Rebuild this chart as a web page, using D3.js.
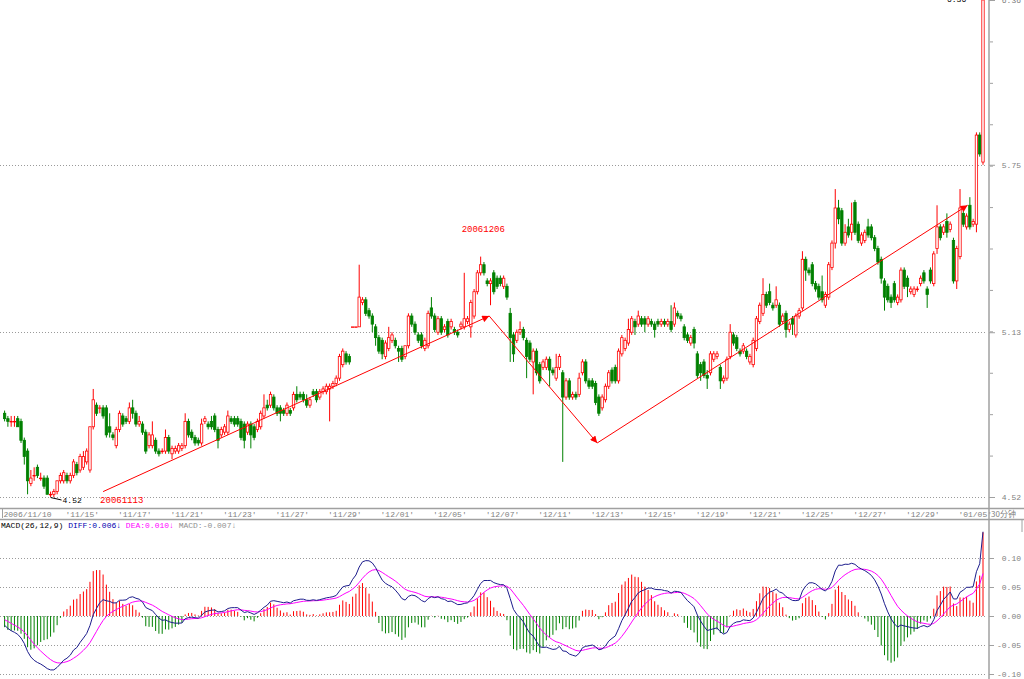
<!DOCTYPE html>
<html>
<head>
<meta charset="utf-8">
<script src="https://cdn.jsdelivr.net/npm/d3@7"></script>
<style>
body { margin: 0; background: #fff; overflow: hidden; }
svg { display: block; }
text { font-family: "Liberation Mono", "DejaVu Sans Mono", monospace; font-size: 8px; }
</style>
</head>
<body>
<svg id="chart" width="1024" height="679"></svg>
<script>
// 30 minute bars, 2006/11/10 .. 2007/01/05
var open = [
  4.83,4.81,4.80,4.80,4.81,4.80,4.73,4.69,4.57,4.60,
  4.63,4.59,4.59,4.59,4.53,4.53,4.54,4.58,4.58,4.60,
  4.58,4.60,4.64,4.62,4.63,4.65,4.62,4.78,4.86,4.85,
  4.85,4.85,4.78,4.75,4.71,4.77,4.82,4.81,4.80,4.85,
  4.83,4.79,4.79,4.76,4.71,4.71,4.73,4.69,4.69,4.69,
  4.74,4.68,4.69,4.69,4.70,4.71,4.80,4.76,4.74,4.73,
  4.72,4.80,4.79,4.80,4.82,4.77,4.75,4.76,4.76,4.81,
  4.81,4.81,4.80,4.79,4.76,4.79,4.78,4.77,4.78,4.82,
  4.86,4.86,4.89,4.85,4.85,4.84,4.83,4.84,4.85,4.90,
  4.90,4.90,4.88,4.86,4.91,4.91,4.89,4.91,4.91,4.92,
  4.93,4.94,4.96,5.01,5.05,5.04,5.15,5.15,5.15,5.24,
  5.25,5.21,5.19,5.15,5.11,5.10,5.04,5.07,5.10,5.10,
  5.07,5.07,5.04,5.08,5.19,5.16,5.12,5.12,5.07,5.08,
  5.22,5.19,5.13,5.18,5.14,5.17,5.15,5.14,5.13,5.15,
  5.15,5.17,5.15,5.19,5.28,5.35,5.38,5.32,5.31,5.35,
  5.33,5.33,5.30,5.30,5.20,5.12,5.10,5.13,5.14,5.10,
  5.09,5.02,5.06,5.01,5.00,5.00,5.03,4.99,4.96,5.00,
  4.98,4.89,4.95,4.89,4.90,4.90,4.98,5.02,4.95,4.95,
  4.94,4.89,4.85,4.88,4.93,4.99,5.00,4.95,5.05,5.07,
  5.09,5.13,5.17,5.16,5.18,5.18,5.16,5.17,5.16,5.17,
  5.16,5.17,5.16,5.17,5.16,5.20,5.19,5.15,5.12,5.09,
  5.14,5.05,5.01,5.02,4.97,4.98,5.03,5.04,5.00,4.95,
  4.96,5.04,5.12,5.11,5.06,5.06,5.06,5.02,5.01,5.07,
  5.17,5.20,5.27,5.28,5.23,5.23,5.23,5.17,5.20,5.14,
  5.18,5.12,5.19,5.22,5.40,5.36,5.38,5.31,5.30,5.28,
  5.23,5.26,5.37,5.46,5.59,5.58,5.46,5.52,5.50,5.61,
  5.53,5.46,5.47,5.52,5.52,5.48,5.44,5.40,5.32,5.30,
  5.26,5.31,5.24,5.25,5.36,5.33,5.28,5.27,5.29,5.31,
  5.35,5.29,5.36,5.31,5.44,5.52,5.50,5.54,5.51,5.47,
  5.32,5.41,5.57,5.52,5.60,5.53,5.53,5.86,5.76
];
var high = [
  4.84,4.82,4.82,4.82,4.82,4.81,4.74,4.70,4.62,4.63,
  4.64,4.61,4.60,4.60,4.54,4.55,4.58,4.61,4.62,4.61,
  4.61,4.66,4.65,4.68,4.69,4.70,4.78,4.92,4.87,4.86,
  4.86,4.86,4.83,4.76,4.78,4.84,4.83,4.82,4.87,4.88,
  4.84,4.82,4.80,4.77,4.76,4.80,4.74,4.70,4.70,4.77,
  4.75,4.71,4.71,4.72,4.72,4.83,4.81,4.77,4.75,4.74,
  4.81,4.82,4.80,4.82,4.83,4.78,4.78,4.79,4.84,4.82,
  4.82,4.82,4.81,4.80,4.80,4.80,4.79,4.81,4.84,4.90,
  4.88,4.91,4.90,4.86,4.86,4.85,4.87,4.85,4.91,4.93,
  4.91,4.91,4.90,4.89,4.92,4.92,4.92,4.93,4.94,4.94,
  4.95,4.97,5.05,5.07,5.06,5.05,5.15,5.15,5.38,5.26,
  5.26,5.22,5.20,5.16,5.12,5.11,5.10,5.15,5.13,5.11,
  5.08,5.08,5.08,5.20,5.20,5.17,5.13,5.13,5.11,5.21,
  5.26,5.20,5.19,5.19,5.16,5.18,5.18,5.15,5.14,5.17,
  5.35,5.19,5.25,5.29,5.36,5.41,5.39,5.33,5.33,5.36,
  5.34,5.34,5.34,5.31,5.22,5.13,5.14,5.17,5.15,5.11,
  5.10,5.07,5.07,5.02,5.03,5.04,5.04,5.00,5.05,5.05,
  4.99,4.96,4.96,4.91,4.91,4.98,5.03,5.03,4.96,4.96,
  4.95,4.90,4.90,4.94,4.99,5.00,5.01,5.07,5.12,5.11,
  5.18,5.19,5.18,5.21,5.19,5.19,5.19,5.18,5.17,5.18,
  5.18,5.18,5.18,5.23,5.24,5.21,5.20,5.16,5.13,5.12,
  5.15,5.06,5.02,5.03,4.99,5.06,5.06,5.06,5.01,4.97,
  5.04,5.16,5.13,5.12,5.07,5.09,5.07,5.05,5.11,5.19,
  5.24,5.33,5.28,5.31,5.24,5.30,5.24,5.20,5.21,5.17,
  5.19,5.20,5.22,5.43,5.41,5.37,5.39,5.32,5.31,5.34,
  5.28,5.39,5.47,5.66,5.62,5.59,5.53,5.55,5.61,5.62,
  5.54,5.50,5.51,5.55,5.53,5.49,5.45,5.41,5.33,5.31,
  5.27,5.32,5.27,5.37,5.37,5.34,5.30,5.30,5.30,5.34,
  5.36,5.30,5.37,5.43,5.60,5.53,5.53,5.57,5.54,5.48,
  5.45,5.66,5.58,5.57,5.63,5.55,5.87,5.87,6.36
];
var low = [
  4.80,4.78,4.78,4.78,4.78,4.72,4.64,4.53,4.56,4.58,
  4.59,4.58,4.55,4.53,4.52,4.52,4.53,4.57,4.57,4.57,
  4.57,4.59,4.60,4.61,4.62,4.64,4.61,4.77,4.82,4.83,
  4.81,4.74,4.74,4.73,4.70,4.76,4.78,4.79,4.79,4.81,
  4.78,4.78,4.75,4.68,4.70,4.70,4.68,4.67,4.68,4.68,
  4.68,4.66,4.68,4.68,4.69,4.70,4.74,4.73,4.71,4.71,
  4.71,4.79,4.77,4.77,4.76,4.70,4.74,4.75,4.75,4.79,
  4.78,4.78,4.73,4.70,4.75,4.70,4.73,4.76,4.77,4.81,
  4.84,4.85,4.84,4.82,4.80,4.82,4.82,4.82,4.84,4.87,
  4.88,4.87,4.85,4.85,4.89,4.87,4.88,4.90,4.90,4.80,
  4.92,4.93,4.95,5.00,5.01,5.01,5.15,5.15,5.15,5.23,
  5.19,5.18,5.13,5.08,5.05,5.03,5.03,5.06,5.09,5.07,
  5.02,5.02,5.03,5.07,5.15,5.12,5.09,5.07,5.06,5.07,
  5.18,5.13,5.12,5.12,5.13,5.11,5.14,5.12,5.11,5.14,
  5.14,5.16,5.11,5.18,5.27,5.34,5.34,5.30,5.23,5.27,
  5.29,5.30,5.29,5.25,5.02,5.02,5.09,5.12,5.10,4.96,
  5.02,4.90,4.97,4.94,4.99,4.99,4.93,4.97,4.95,4.99,
  4.65,4.88,4.88,4.88,4.88,4.89,4.97,4.94,4.92,4.92,
  4.86,4.82,4.84,4.87,4.92,4.94,4.94,4.94,5.04,5.06,
  5.08,5.12,5.12,5.15,5.15,5.13,5.15,5.15,5.11,5.15,
  5.15,5.15,5.15,5.13,5.15,5.18,5.17,5.10,5.09,5.08,
  5.07,4.96,4.95,4.96,4.92,4.97,5.02,5.03,4.92,4.94,
  4.95,5.03,5.08,5.06,5.04,5.05,5.03,5.01,5.00,5.06,
  5.16,5.19,5.22,5.23,5.21,5.22,5.15,5.16,5.11,5.13,
  5.12,5.11,5.18,5.21,5.32,5.34,5.30,5.28,5.25,5.24,
  5.22,5.25,5.36,5.44,5.53,5.45,5.45,5.48,5.47,5.49,
  5.46,5.45,5.46,5.48,5.47,5.43,5.38,5.31,5.21,5.24,
  5.22,5.24,5.23,5.24,5.29,5.26,5.27,5.26,5.28,5.30,
  5.31,5.22,5.31,5.30,5.42,5.47,5.49,5.48,5.50,5.31,
  5.29,5.40,5.52,5.51,5.51,5.52,5.50,5.78,5.75
];
var close = [
  4.81,4.80,4.80,4.80,4.78,4.73,4.67,4.58,4.59,4.60,
  4.60,4.59,4.56,4.53,4.53,4.54,4.58,4.60,4.61,4.58,
  4.60,4.65,4.61,4.67,4.67,4.69,4.78,4.88,4.83,4.85,
  4.82,4.75,4.76,4.74,4.77,4.83,4.79,4.80,4.85,4.83,
  4.79,4.80,4.76,4.69,4.75,4.75,4.69,4.68,4.69,4.74,
  4.69,4.70,4.70,4.71,4.71,4.80,4.75,4.74,4.72,4.72,
  4.79,4.81,4.78,4.78,4.77,4.73,4.77,4.78,4.82,4.80,
  4.79,4.79,4.74,4.73,4.79,4.75,4.74,4.80,4.83,4.85,
  4.85,4.90,4.85,4.83,4.83,4.83,4.86,4.83,4.90,4.88,
  4.89,4.88,4.86,4.88,4.90,4.88,4.91,4.92,4.93,4.93,
  4.94,4.96,5.04,5.06,5.02,5.02,5.15,5.15,5.26,5.25,
  5.20,5.19,5.16,5.11,5.06,5.05,5.09,5.11,5.12,5.08,
  5.06,5.03,5.08,5.19,5.16,5.13,5.10,5.08,5.10,5.20,
  5.19,5.14,5.18,5.13,5.15,5.12,5.17,5.13,5.12,5.16,
  5.18,5.18,5.24,5.28,5.35,5.38,5.35,5.31,5.32,5.28,
  5.30,5.31,5.33,5.26,5.11,5.05,5.13,5.14,5.11,5.04,
  5.03,5.06,4.98,4.95,5.02,5.03,4.99,4.98,5.00,5.04,
  4.89,4.95,4.89,4.90,4.89,4.96,5.02,4.95,4.93,4.93,
  4.87,4.83,4.89,4.93,4.98,4.95,4.95,5.06,5.11,5.10,
  5.14,5.18,5.15,5.19,5.16,5.16,5.18,5.16,5.14,5.16,
  5.17,5.16,5.17,5.14,5.22,5.19,5.18,5.11,5.10,5.11,
  5.09,4.97,4.98,4.97,4.96,5.05,5.05,5.05,4.95,4.96,
  5.03,5.13,5.09,5.07,5.05,5.08,5.04,5.04,5.10,5.18,
  5.23,5.27,5.23,5.24,5.22,5.25,5.16,5.19,5.14,5.16,
  5.16,5.19,5.21,5.40,5.36,5.35,5.31,5.29,5.26,5.25,
  5.27,5.38,5.46,5.59,5.55,5.46,5.50,5.49,5.53,5.50,
  5.47,5.49,5.50,5.49,5.48,5.44,5.39,5.33,5.26,5.25,
  5.24,5.25,5.26,5.36,5.30,5.30,5.29,5.29,5.29,5.33,
  5.32,5.27,5.32,5.42,5.52,5.48,5.52,5.50,5.53,5.32,
  5.44,5.59,5.53,5.56,5.52,5.54,5.86,5.79,6.36
];

// date labels on the time axis (bar index where each one sits)
var tickIndex = [0, 19, 35, 51, 67, 83, 99, 115, 131, 147, 163, 179, 195, 211, 227, 243, 259, 275, 291];
var tickLabels = ["2006/11/10", "11/15", "11/17", "11/21", "11/23", "11/27", "11/29", "12/01", "12/05",
                  "12/07", "12/11", "12/13", "12/15", "12/19", "12/21", "12/25", "12/27", "12/29", "01/05"];

var priceTicks = [4.52, 5.13, 5.75, 6.36];
var macdTicks = [0.10, 0.05, 0.00, -0.05, -0.10];

// hand drawn trend lines: bar index / price of each corner
var trendIndex = [30, 147.6, 180.5, 293.3];
var trendPrice = [4.54, 5.19, 4.72, 5.60];
var trendLabels = ["20061113", "20061206"];

// EMA12, EMA26 and DEA carried in from before the first bar
// (set so DIFF / DEA start where the picture shows them)
var macdStart = [4.895, 4.905, -0.004];

var red = "#ff0000", green = "#008000", grid = "#9a9a9a", axisGrey = "#808080";

var svg = d3.select("#chart");
var n = close.length;

var x = d3.scaleLinear().domain([0, n - 1]).range([4.6, 983]);
var y = d3.scaleLinear().domain([4.52, 6.36]).range([497, 0]);
var ym = d3.scaleLinear().domain([-0.10, 0.10]).range([674, 558]);

// MACD(26,12,9)
var ema12 = macdStart[0], ema26 = macdStart[1], dea = macdStart[2];
var diff = [], deaArr = [], macd = [];
close.forEach(function(c) {
    ema12 = ema12 + 2 / 13 * (c - ema12);
    ema26 = ema26 + 2 / 27 * (c - ema26);
    var d = ema12 - ema26;
    dea = dea + 2 / 10 * (d - dea);
    diff.push(d);
    deaArr.push(dea);
    macd.push(2 * (d - dea));
});

// grid lines
svg.append("g").selectAll("line")
    .data(priceTicks.slice(0, 3))
    .enter().append("line")
    .attr("x1", 0).attr("x2", 987)
    .attr("y1", function(d) { return Math.round(y(d)) + 0.5; })
    .attr("y2", function(d) { return Math.round(y(d)) + 0.5; })
    .attr("stroke", grid).attr("stroke-dasharray", "1,2");

svg.append("g").selectAll("line")
    .data(macdTicks)
    .enter().append("line")
    .attr("x1", 0).attr("x2", 987)
    .attr("y1", function(d) { return Math.round(ym(d)) + 0.5; })
    .attr("y2", function(d) { return Math.round(ym(d)) + 0.5; })
    .attr("stroke", grid).attr("stroke-dasharray", "1,2");

// candles
var bars = d3.range(n).map(function(i) {
    return { i: i, o: open[i], h: high[i], l: low[i], c: close[i] };
});
var bw = 2.4;
var candle = svg.append("g").selectAll("g")
    .data(bars)
    .enter().append("g");

candle.append("line")
    .attr("x1", function(d) { return x(d.i); })
    .attr("x2", function(d) { return x(d.i); })
    .attr("y1", function(d) { return y(d.h); })
    .attr("y2", function(d) { return y(d.l); })
    .attr("stroke", function(d) { return d.c >= d.o ? red : green; })
    .attr("stroke-width", 1);

candle.append("rect")
    .attr("x", function(d) { return x(d.i) - bw / 2; })
    .attr("width", bw)
    .attr("y", function(d) { return y(Math.max(d.o, d.c)); })
    .attr("height", function(d) { return Math.max(0.6, Math.abs(y(d.o) - y(d.c))); })
    .attr("fill", function(d) { return d.c >= d.o ? "#fff" : green; })
    .attr("stroke", function(d) { return d.c >= d.o ? red : green; })
    .attr("stroke-width", 0.8);

// low / high markers
var iLow = d3.minIndex(low), iHigh = d3.maxIndex(high);
svg.append("line")
    .attr("x1", x(iLow)).attr("y1", y(low[iLow]) + 0.5)
    .attr("x2", x(iLow) + 11).attr("y2", y(low[iLow]) + 3)
    .attr("stroke", "#000");
svg.append("text")
    .attr("x", x(iLow) + 12).attr("y", y(low[iLow]) + 6)
    .attr("fill", "#000")
    .text(low[iLow].toFixed(2));
svg.append("text")
    .attr("x", x(iHigh) - 36).attr("y", y(high[iHigh]) + 2)
    .attr("fill", "#000")
    .text(high[iHigh].toFixed(2));

// trend lines
svg.append("defs").append("marker")
    .attr("id", "arrow")
    .attr("viewBox", "0 0 10 10")
    .attr("refX", 10).attr("refY", 5)
    .attr("markerWidth", 9).attr("markerHeight", 7)
    .attr("markerUnits", "userSpaceOnUse")
    .attr("orient", "auto")
    .append("path").attr("d", "M0,0L10,5L0,10z").attr("fill", red);

svg.append("g").selectAll("line")
    .data(d3.range(trendIndex.length - 1))
    .enter().append("line")
    .attr("x1", function(k) { return x(trendIndex[k]); })
    .attr("y1", function(k) { return y(trendPrice[k]); })
    .attr("x2", function(k) { return x(trendIndex[k + 1]); })
    .attr("y2", function(k) { return y(trendPrice[k + 1]); })
    .attr("stroke", red).attr("stroke-width", 1)
    .attr("marker-end", "url(#arrow)");

svg.append("text")
    .attr("x", x(trendIndex[0]) - 3).attr("y", y(trendPrice[0]) + 11)
    .attr("fill", red).style("font-size", "9px")
    .text(trendLabels[0]);
svg.append("text")
    .attr("x", x(145) - 19).attr("y", y(high[145]) - 25)
    .attr("fill", red).style("font-size", "9px")
    .text(trendLabels[1]);

// time axis band
svg.append("line").attr("x1", 0).attr("x2", 1024).attr("y1", 508.5).attr("y2", 508.5)
    .attr("stroke", "#a0a0a0").attr("stroke-width", 1.4);
svg.append("line").attr("x1", 0).attr("x2", 1024).attr("y1", 519.5).attr("y2", 519.5)
    .attr("stroke", "#a0a0a0").attr("stroke-width", 1.4);
svg.append("line").attr("x1", 2.5).attr("x2", 2.5).attr("y1", 509).attr("y2", 518)
    .attr("stroke", "#a0a0a0");

svg.append("g").selectAll("text")
    .data(tickIndex)
    .enter().append("text")
    .attr("x", function(d) { return Math.max(3.5, x(d) - 1.6); })
    .attr("y", 516.5)
    .attr("fill", axisGrey)
    .text(function(d, k) { return k === 0 ? tickLabels[k] : "'" + tickLabels[k] + "'"; });

svg.append("text").attr("x", 991).attr("y", 517)
    .attr("fill", axisGrey)
    .style("font-family", "'Noto Sans CJK SC', sans-serif").style("font-size", "8px")
    .text("30分钟");

// right axes
svg.append("line").attr("x1", 989).attr("x2", 989).attr("y1", 0).attr("y2", 679)
    .attr("stroke", "#a0a0a0").attr("stroke-width", 1.5);
svg.append("line").attr("x1", 1022).attr("x2", 1022).attr("y1", 519).attr("y2", 532)
    .attr("stroke", "#a0a0a0").attr("stroke-width", 1);

var minorTicks = d3.range(0, 13).map(function(k) { return 4.52 + k * (6.36 - 4.52) / 12; });
svg.append("g")
    .attr("transform", "translate(990,0)")
    .call(d3.axisRight(y).tickValues(minorTicks).tickSize(3).tickFormat(""))
    .call(function(g) { g.select(".domain").remove(); g.selectAll("line").attr("stroke", "#a0a0a0"); });

var priceAxis = svg.append("g")
    .attr("transform", "translate(989,0)")
    .call(d3.axisRight(y).tickValues(priceTicks).tickSize(6).tickFormat(function(d) { return d.toFixed(2); }));
priceAxis.select(".domain").remove();
priceAxis.selectAll("line").attr("stroke", "#a0a0a0");
priceAxis.selectAll("text").attr("x", 32).attr("text-anchor", "end")
    .attr("fill", axisGrey).style("font-size", "8px").style("font-family", null);

var macdAxis = svg.append("g")
    .attr("transform", "translate(989,0)")
    .call(d3.axisRight(ym).tickValues(macdTicks).tickSize(5).tickFormat(function(d) { return d.toFixed(2); }));
macdAxis.select(".domain").remove();
macdAxis.selectAll("line").attr("stroke", "#a0a0a0");
macdAxis.selectAll("text").attr("x", 32).attr("text-anchor", "end")
    .attr("fill", axisGrey).style("font-size", "8px").style("font-family", null);

// MACD histogram
svg.append("g").selectAll("line")
    .data(macd)
    .enter().append("line")
    .attr("x1", function(d, i) { return x(i); })
    .attr("x2", function(d, i) { return x(i); })
    .attr("y1", ym(0))
    .attr("y2", function(d) { return ym(d); })
    .attr("stroke", function(d) { return d >= 0 ? red : green; })
    .attr("stroke-width", 1);

var line = d3.line()
    .x(function(d, i) { return x(i); })
    .y(function(d) { return ym(d); });

svg.append("path").datum(deaArr)
    .attr("fill", "none").attr("stroke", "#ff00ff").attr("stroke-width", 1)
    .attr("d", line);
svg.append("path").datum(diff)
    .attr("fill", "none").attr("stroke", "#1c1c8c").attr("stroke-width", 1)
    .attr("d", line);

// MACD legend
var legend = svg.append("text").attr("x", 1).attr("y", 528);
legend.append("tspan").attr("fill", "#000").text("MACD(26,12,9) ");
legend.append("tspan").attr("fill", "#0000b0").text("DIFF:0.006\u2193 ");
legend.append("tspan").attr("fill", "#ff00ff").text("DEA:0.010\u2193 ");
legend.append("tspan").attr("fill", "#909090").text("MACD:-0.007\u2193");
</script>
</body>
</html>
